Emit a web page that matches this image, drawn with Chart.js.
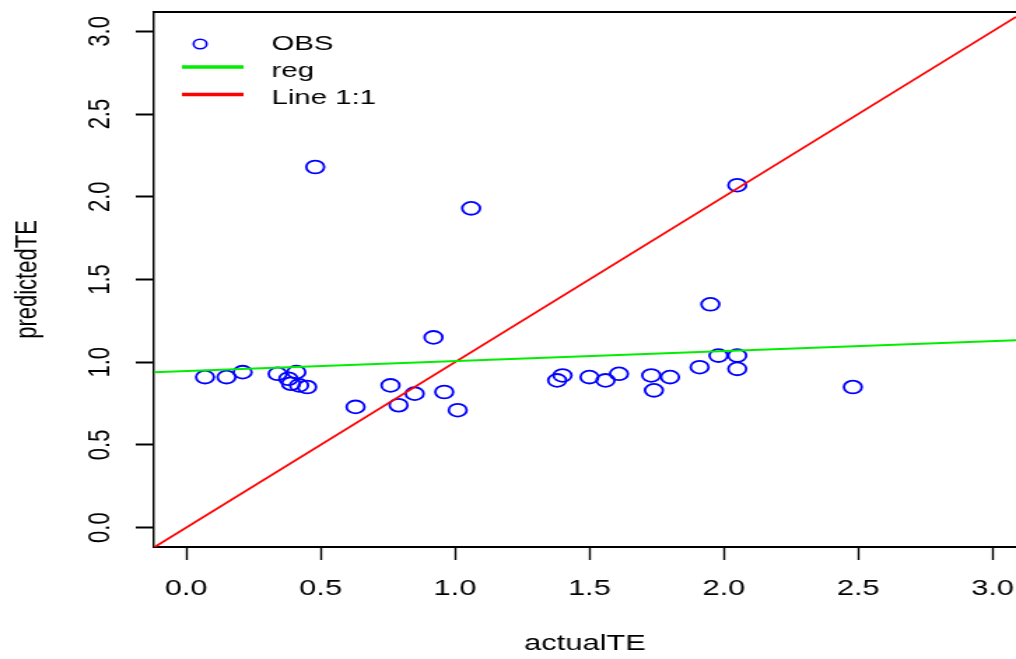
<!DOCTYPE html>
<html>
<head>
<meta charset="utf-8">
<script src="https://cdn.jsdelivr.net/npm/chart.js@4.4.1/dist/chart.umd.min.js"></script>
<style>
  html, body { margin: 0; padding: 0; background: #fff; overflow: hidden; }
  #plot { display: block; }
</style>
</head>
<body>
<!-- drawn narrow, then widened by the inline style like the old R device output -->
<canvas id="plot" width="726" height="659" style="width:1016px;height:659px"></canvas>
<script>
// observed vs predicted TE
const actualTE = [0.07, 0.15, 0.21, 0.34, 0.38, 0.41, 0.39, 0.42, 0.45, 0.63, 0.76,
                  0.79, 0.85, 0.96, 1.01, 0.92, 0.48, 1.06, 2.05, 1.38, 1.40, 1.50,
                  1.56, 1.61, 1.73, 1.80, 1.74, 1.91, 1.98, 2.05, 2.05, 1.95, 2.48];
const predictedTE = [0.91, 0.91, 0.94, 0.93, 0.90, 0.94, 0.87, 0.86, 0.85, 0.73, 0.86,
                     0.74, 0.81, 0.82, 0.71, 1.15, 2.18, 1.93, 2.07, 0.89, 0.92, 0.91,
                     0.89, 0.93, 0.92, 0.91, 0.83, 0.97, 1.04, 1.04, 0.96, 1.35, 0.85];

// fitted line (predicted ~ actual)
const regIntercept = 0.947;
const regSlope = 0.060;

// axis limits and ticks
const xMin = -0.12, xMax = 3.087;
const yMin = -0.117, yMax = 3.117;
const xTickValues = [0, 0.5, 1, 1.5, 2, 2.5, 3];
const xTickLabels = ["0.0", "0.5", "1.0", "1.5", "2.0", "2.5", "3.0"];
const yTickValues = [0, 0.5, 1, 1.5, 2, 2.5, 3];
const yTickLabels = ["0.0", "0.5", "1.0", "1.5", "2.0", "2.5", "3.0"];

const FONT = "'Liberation Sans', Arial, sans-serif";

const obsPoints = actualTE.map((x, i) => ({ x: x, y: predictedTE[i] }));
const regPoints = [xMin, xMax].map(x => ({ x: x, y: regIntercept + regSlope * x }));
const onePoints = [xMin, xMax].map(x => ({ x: x, y: x }));

// top frame line + rotated y tick labels (R style)
const rAxes = {
    id: "rAxes",
    afterDraw(chart) {
        const ctx = chart.ctx;
        const area = chart.chartArea;
        const yScale = chart.scales.y;
        ctx.save();
        ctx.strokeStyle = "#000";
        ctx.lineWidth = 2;
        ctx.beginPath();
        ctx.moveTo(area.left, area.top);
        ctx.lineTo(area.right, area.top);
        ctx.stroke();

        ctx.fillStyle = "#000";
        ctx.font = "22px " + FONT;
        ctx.textAlign = "center";
        ctx.textBaseline = "alphabetic";
        const cap = 22 * 0.716;
        yTickValues.forEach((v, i) => {
            const py = yScale.getPixelForValue(v);
            ctx.save();
            ctx.translate(70.5, py);
            ctx.rotate(-Math.PI / 2);
            ctx.fillText(yTickLabels[i], 0, cap / 2);
            ctx.restore();
        });
        ctx.restore();
    }
};

// legend in the top-left corner, no box
const cornerLegend = {
    id: "cornerLegend",
    afterDatasetsDraw(chart) {
        const ctx = chart.ctx;
        const ds = chart.data.datasets;
        ctx.save();
        // OBS symbol
        ctx.strokeStyle = ds[2].borderColor;
        ctx.lineWidth = 1.6;
        ctx.beginPath();
        ctx.arc(143, 44, 4.7, 0, Math.PI * 2);
        ctx.stroke();
        // line symbols
        ctx.lineWidth = 3.5;
        [[ds[0], 67], [ds[1], 94.5]].forEach(([d, y]) => {
            ctx.strokeStyle = d.borderColor;
            ctx.beginPath();
            ctx.moveTo(130, y);
            ctx.lineTo(174, y);
            ctx.stroke();
        });
        ctx.fillStyle = "#000";
        ctx.font = "21px " + FONT;
        ctx.textAlign = "left";
        ctx.textBaseline = "alphabetic";
        ctx.fillText(ds[2].label, 194, 50);
        ctx.fillText(ds[0].label, 194, 76.5);
        ctx.fillText(ds[1].label, 194, 103.5);
        ctx.restore();
    }
};

new Chart(document.getElementById("plot").getContext("2d"), {
    type: "scatter",
    data: {
        datasets: [
            {
                type: "line",
                label: "reg",
                data: regPoints,
                borderColor: "#00ee00",
                borderWidth: 2,
                pointRadius: 0,
                fill: false,
                order: 0
            },
            {
                type: "line",
                label: "Line 1:1",
                data: onePoints,
                borderColor: "#ff0000",
                borderWidth: 1.7,
                pointRadius: 0,
                fill: false,
                order: 1
            },
            {
                label: "OBS",
                data: obsPoints,
                pointStyle: "circle",
                pointRadius: 6.4,
                pointBorderWidth: 1.8,
                pointBorderColor: "#0000ff",
                borderColor: "#0000ff",
                pointBackgroundColor: "rgba(0,0,0,0)",
                order: 2
            }
        ]
    },
    options: {
        responsive: false,
        devicePixelRatio: 1,
        animation: false,
        events: [],
        layout: { autoPadding: false, padding: { top: 12, right: 0, left: 0, bottom: 0 } },
        plugins: {
            legend: { display: false },
            tooltip: { enabled: false }
        },
        scales: {
            x: {
                type: "linear",
                min: xMin,
                max: xMax,
                afterBuildTicks: s => { s.ticks = xTickValues.map(v => ({ value: v })); },
                afterFit: s => {
                    s.height = 112;
                    // let the plot run to the canvas edge, the "3.0" label fits anyway
                    s.paddingLeft = 0;
                    s.paddingRight = 0;
                },
                grid: { drawOnChartArea: false, drawTicks: true, tickLength: 13, tickWidth: 1.4, tickColor: "#000" },
                border: { display: true, color: "#000", width: 2 },
                ticks: {
                    font: { family: FONT, size: 22 },
                    color: "#000",
                    padding: 16,
                    maxRotation: 0,
                    autoSkip: false,
                    callback: (v, i) => xTickLabels[i]
                },
                title: {
                    display: true,
                    text: "actualTE",
                    color: "#000",
                    font: { family: FONT, size: 22 },
                    padding: { top: 0, bottom: 2 }
                }
            },
            y: {
                type: "linear",
                min: yMin,
                max: yMax,
                afterBuildTicks: s => { s.ticks = yTickValues.map(v => ({ value: v })); },
                afterFit: s => {
                    s.width = 110;
                    s.paddingTop = 0;
                    s.paddingBottom = 0;
                },
                grid: { drawOnChartArea: false, drawTicks: true, tickLength: 13, tickWidth: 2, tickColor: "#000" },
                border: { display: true, color: "#000", width: 1.45 },
                ticks: { display: false },
                title: {
                    display: true,
                    text: "predictedTE",
                    color: "#000",
                    font: { family: FONT, size: 22 },
                    padding: { top: 7, bottom: 0 }
                }
            }
        }
    },
    plugins: [rAxes, cornerLegend]
});
</script>
</body>
</html>
